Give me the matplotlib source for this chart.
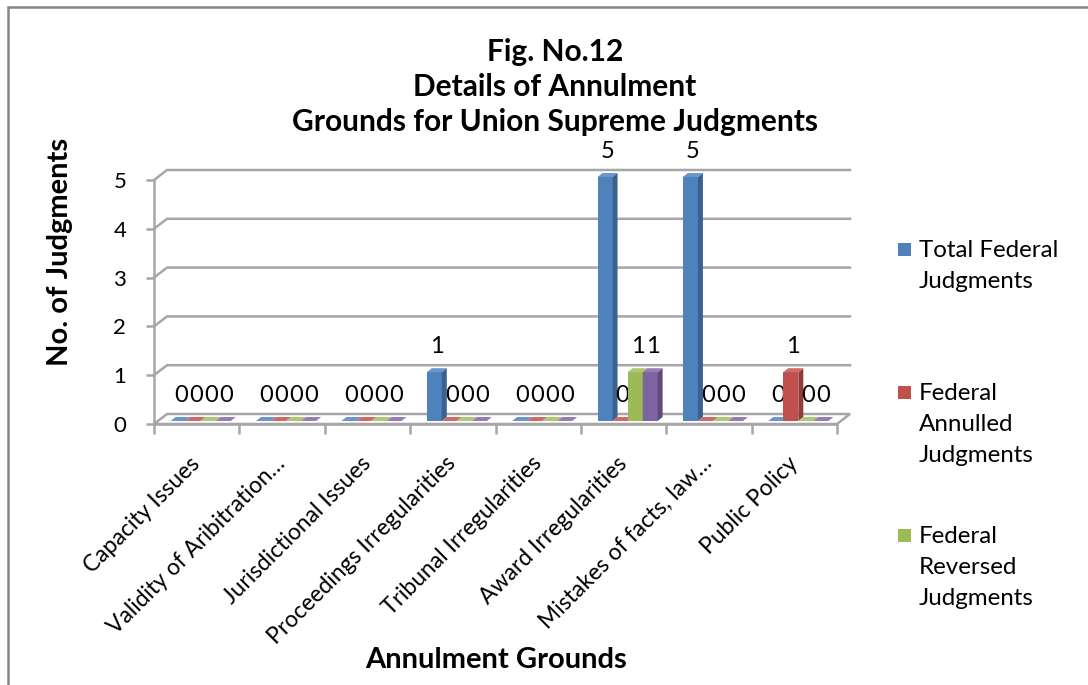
import numpy as np
import matplotlib.pyplot as plt
from matplotlib.patches import Polygon, Rectangle
from matplotlib.transforms import ScaledTranslation

plt.rcParams['font.family'] = ['Lato', 'DejaVu Sans']

# data
categories = ["Capacity Issues", "Validity of Aribitration…", "Jurisdictional Issues",
              "Proceedings Irregularities", "Tribunal Irregularities", "Award Irregularities",
              "Mistakes of facts, law…", "Public Policy"]
total_federal = [0, 0, 0, 1, 0, 5, 5, 0]
federal_annulled = [0, 0, 0, 0, 0, 0, 0, 1]
federal_reversed = [0, 0, 0, 0, 0, 1, 0, 0]
fourth_series = [0, 0, 0, 0, 0, 1, 0, 0]
legend_names = ["Total Federal\nJudgments", "Federal\nAnnulled\nJudgments", "Federal\nReversed\nJudgments"]

series = [total_federal, federal_annulled, federal_reversed, fourth_series]
colors = ["#4F81BD", "#C0504D", "#9BBB59", "#8064A2"]
side_colors = ["#3A6190", "#923C3A", "#74903F", "#5F4A7C"]
top_colors = ["#6A96CC", "#CF6A67", "#AEC974", "#977CB6"]
grid_col = "#A6A6A6"

W, H = 1088, 685
fig = plt.figure(figsize=(W / 100, H / 100), dpi=100)

# plot area (front face) in pixels
left_px, right_px, top_px, base_px = 154, 837, 180, 424
ax = fig.add_axes([left_px / W, 1 - base_px / H, (right_px - left_px) / W, (base_px - top_px) / H])
n = len(categories)
ax.set_xlim(-0.5, n - 0.5)
ax.set_ylim(0, 5)
px_x = (right_px - left_px) / n     # pixels per category
px_y = (base_px - top_px) / 5       # pixels per unit

# 3d wall / bar depth in data units
wdx, wdy = 13 / px_x, 10 / px_y
bdx, bdy = 5 / px_x, 4 / px_y
shift = ax.transData + ScaledTranslation(0.04, 0.03, fig.dpi_scale_trans)

for s in ["top", "right"]:
    ax.spines[s].set_visible(False)
for s in ["left", "bottom"]:
    ax.spines[s].set_color(grid_col)
    ax.spines[s].set_linewidth(1.8)

# back wall gridlines + floor
for yv in range(1, 6):
    ax.plot([-0.5, -0.5 + wdx, n - 0.5 + wdx], [yv, yv + wdy, yv + wdy],
            color=grid_col, lw=1.8, zorder=1, clip_on=False)
floor = Polygon([(-0.5, 0), (n - 0.5, 0), (n - 0.5 + wdx, wdy), (-0.5 + wdx, wdy)],
                closed=True, facecolor="white", edgecolor=grid_col, lw=1.8, zorder=1, clip_on=False)
ax.add_patch(floor)

x = np.arange(n)
bw = 0.176
for i, vals in enumerate(series):
    xs = x + (i - 1.5) * bw
    z = 3 + 2 * i
    ax.bar(xs, vals, width=bw, color=colors[i], zorder=z, transform=shift, clip_on=False, linewidth=0)
    for xc, h in zip(xs, vals):
        xl, xr = xc - bw / 2, xc + bw / 2
        ax.add_patch(Polygon([(xr, 0), (xr + bdx, bdy), (xr + bdx, h + bdy), (xr, h)],
                             closed=True, facecolor=side_colors[i], lw=0, zorder=z,
                             transform=shift, clip_on=False))
        ax.add_patch(Polygon([(xl, h), (xl + bdx, h + bdy), (xr + bdx, h + bdy), (xr, h)],
                             closed=True, facecolor=top_colors[i], lw=0, zorder=z,
                             transform=shift, clip_on=False))
        ax.text(xc + bdx / 2, h + 0.52, str(h), ha="center", va="center", fontsize=17,
                zorder=z + 1, transform=shift, clip_on=False)

# axes ticks
ax.set_yticks(range(6))
ax.tick_params(axis="y", length=6, width=1.8, color=grid_col, labelsize=16, pad=14)
ax.set_xticks(x)
ax.set_xticks(np.arange(-0.5, n), minor=True)
ax.tick_params(axis="x", which="major", length=0, pad=26)
ax.tick_params(axis="x", which="minor", length=7, width=1.8, color=grid_col)
ax.set_xticklabels(categories, rotation=45, ha="right", va="center", rotation_mode="anchor", fontsize=16.5)

ax.set_xlabel("Annulment Grounds", fontsize=21, fontweight="bold", labelpad=0)
ax.xaxis.set_label_coords(0.501, -0.915)
ax.set_ylabel("No. of Judgments", fontsize=21, fontweight="bold")
ax.yaxis.set_label_coords(-0.118, 0.705)

fig.text(0.51, 1 - 87 / H, "Fig. No.12\nDetails of Annulment\nGrounds for Union Supreme Judgments",
         ha="center", va="center", fontsize=21.5, fontweight="bold", linespacing=1.3)

# legend
leg_y = [249, 392, 535]
for i, name in enumerate(legend_names):
    fig.patches.append(Rectangle((898 / W, 1 - (leg_y[i] + 7) / H), 13 / W, 13 / H,
                                 transform=fig.transFigure, facecolor=colors[i], lw=0))
    fig.text(919 / W, 1 - (leg_y[i] - 9) / H, name, ha="left", va="top", fontsize=17.4,
             linespacing=1.6)

# chart border
fig.patches.append(Rectangle((8 / W, -0.1), 1.2, 1 - 7 / H + 0.1, transform=fig.transFigure,
                             fill=False, edgecolor="#868686", lw=1.8))

fig.savefig("out.png", dpi=100)
